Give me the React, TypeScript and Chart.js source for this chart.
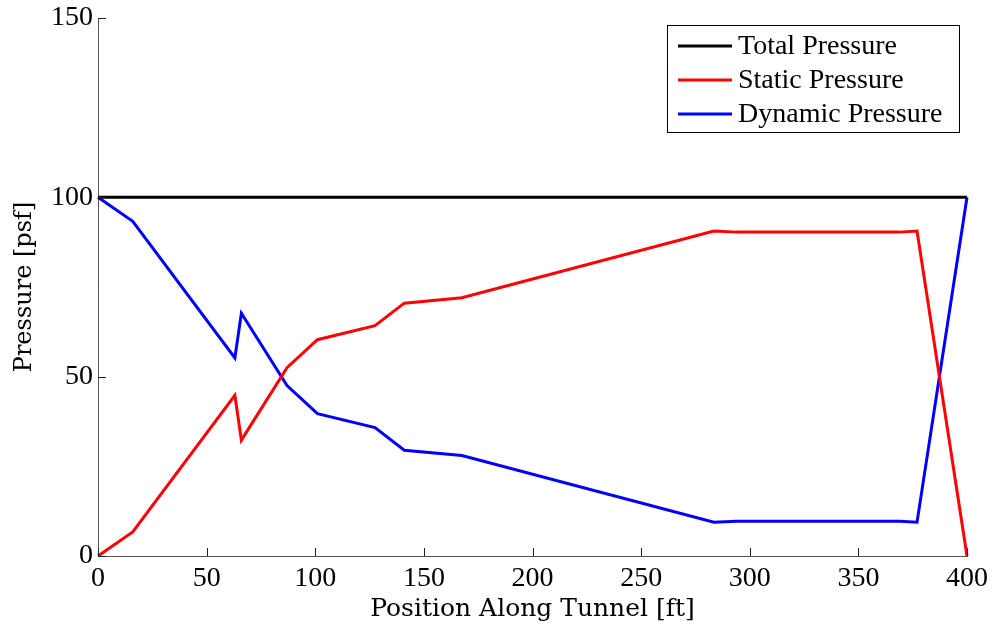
import React, { useEffect, useRef } from "react";
import { Chart, registerables } from "chart.js";

Chart.register(...registerables);

const positions = [0, 16, 63, 66, 87, 101, 127.5, 141, 167.5, 283.5, 294, 369, 377, 400];
const totalPressure = [100, 100, 100, 100, 100, 100, 100, 100, 100, 100, 100, 100, 100, 100];
const staticPressure = [0, 6.7, 44.8, 32.3, 52.5, 60.3, 64.2, 70.5, 72.0, 90.6, 90.3, 90.3, 90.6, 0];
const dynamicPressure = [100, 93.3, 55.2, 67.7, 47.5, 39.7, 35.8, 29.5, 28.0, 9.4, 9.7, 9.7, 9.4, 100];
const seriesNames = ["Total Pressure", "Static Pressure", "Dynamic Pressure"];
const seriesColors = ["#000000", "#ff0000", "#0000ff"];
const xTitle = "Position Along Tunnel [ft]";
const yTitle = "Pressure [psf]";

const tickFont = { family: "'Liberation Serif', serif", size: 28 };
const xTitleFont = { family: "'DejaVu Serif', serif", size: 25 };
const yTitleFont = { family: "'DejaVu Serif', serif", size: 24 };

const inwardTicks = {
  id: "inwardTicks",
  afterDraw(chart: any) {
    const ctx = chart.ctx;
    const area = chart.chartArea;
    const xs = chart.scales.x;
    const ys = chart.scales.y;
    ctx.save();
    ctx.strokeStyle = "#222";
    ctx.lineWidth = 1;
    xs.ticks.forEach((t: any) => {
      const px = Math.round(xs.getPixelForValue(t.value)) + 0.5;
      ctx.beginPath();
      ctx.moveTo(px, area.bottom);
      ctx.lineTo(px, area.bottom - 8);
      ctx.stroke();
    });
    ys.ticks.forEach((t: any) => {
      const py = Math.round(ys.getPixelForValue(t.value)) + 0.5;
      ctx.beginPath();
      ctx.moveTo(area.left, py);
      ctx.lineTo(area.left + 8, py);
      ctx.stroke();
    });
    ctx.restore();
  },
};

const boxLegend = {
  id: "boxLegend",
  afterDraw(chart: any) {
    const ctx = chart.ctx;
    const area = chart.chartArea;
    const right = area.right - 8;
    const top = area.top + 7;
    const w = 292;
    const h = 107;
    const left = right - w;
    ctx.save();
    ctx.fillStyle = "#fff";
    ctx.fillRect(left, top, w, h);
    ctx.strokeStyle = "#000";
    ctx.lineWidth = 1;
    ctx.strokeRect(Math.round(left) + 0.5, Math.round(top) + 0.5, w, h);
    ctx.font = `${tickFont.size}px ${tickFont.family}`;
    ctx.textBaseline = "middle";
    ctx.textAlign = "left";
    chart.data.datasets.forEach((ds: any, i: number) => {
      const cy = top + 21 + i * 34;
      ctx.strokeStyle = ds.borderColor;
      ctx.lineWidth = 3;
      ctx.beginPath();
      ctx.moveTo(left + 11, cy);
      ctx.lineTo(left + 65, cy);
      ctx.stroke();
      ctx.fillStyle = "#000";
      ctx.fillText(ds.label, left + 71, cy + 1);
    });
    ctx.restore();
  },
};

export default function App() {
  const ref = useRef<HTMLCanvasElement | null>(null);

  useEffect(() => {
    if (!ref.current) return;
    const mk = (vals: number[]) => positions.map((x, i) => ({ x, y: vals[i] }));
    const chart = new Chart(ref.current, {
      type: "line",
      data: {
        datasets: [totalPressure, staticPressure, dynamicPressure].map((vals, i) => ({
          label: seriesNames[i],
          data: mk(vals),
          borderColor: seriesColors[i],
          backgroundColor: seriesColors[i],
          borderWidth: 3,
          pointRadius: 0,
          tension: 0,
          fill: false,
          clip: false as any,
        })),
      },
      options: {
        responsive: false,
        animation: false,
        layout: { padding: { left: 0, top: 18, right: 26, bottom: 0 } },
        plugins: { legend: { display: false }, tooltip: { enabled: false } },
        scales: {
          x: {
            type: "linear",
            min: 0,
            max: 400,
            ticks: { stepSize: 50, font: tickFont, color: "#000", padding: 6, maxRotation: 0 },
            grid: { display: false, drawTicks: false },
            border: { display: true, color: "#555", width: 1 },
            title: { display: true, text: xTitle, font: xTitleFont, color: "#000", padding: { top: 0, bottom: 3 } },
            afterFit: (s: any) => {
              s.height = 71;
              s.paddingLeft = 0;
              s.paddingRight = 0;
            },
          },
          y: {
            type: "linear",
            min: 0,
            max: 150,
            ticks: { stepSize: 50, font: tickFont, color: "#000", padding: 5 },
            grid: { display: false, drawTicks: false },
            border: { display: true, color: "#555", width: 1 },
            title: { display: true, text: yTitle, font: yTitleFont, color: "#000", padding: { top: 10, bottom: 0 } },
            afterFit: (s: any) => {
              s.width = 98;
              s.paddingTop = 0;
              s.paddingBottom = 0;
            },
          },
        },
      },
      plugins: [inwardTicks, boxLegend],
    });
    return () => chart.destroy();
  }, []);

  return (
    <div style={{ position: "absolute", left: 0, top: 0, width: 993, height: 627, background: "#fff" }}>
      <canvas ref={ref} width={993} height={627} style={{ display: "block" }} />
    </div>
  );
}
